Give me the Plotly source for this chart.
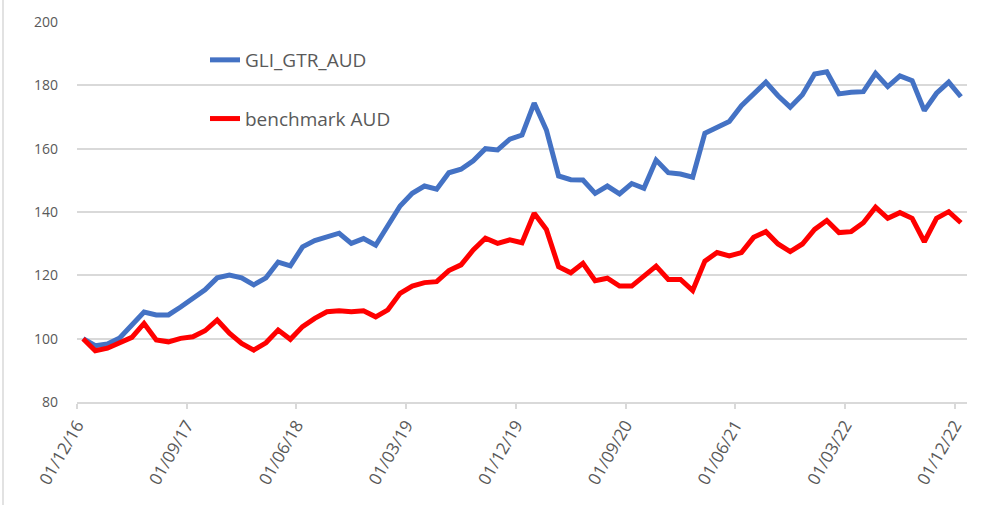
import pandas as pd
import plotly.graph_objects as go

# Monthly dates 01/12/16 .. 01/12/22
dates = pd.date_range("2016-12-01", "2022-12-01", freq="MS")
date_labels = [d.strftime("%d/%m/%y") for d in dates]

gli_gtr_aud = [
    100.0, 97.8, 98.3, 100.2, 104.3, 108.4, 107.5, 107.5, 110.0, 112.8,
    115.4, 119.2, 120.1, 119.2, 117.0, 119.2, 124.2, 123.0, 129.0, 131.0,
    132.0, 133.3, 130.1, 131.6, 129.5, 135.4, 141.9, 145.9, 148.2, 147.2,
    152.4, 153.5, 156.2, 160.0, 159.6, 163.0, 164.3, 174.4, 165.9, 151.4,
    150.2, 150.1, 145.9, 148.2, 145.7, 149.0, 147.5, 156.4, 152.4, 152.0,
    151.0, 164.9, 166.7, 168.6, 173.6, 177.4, 181.0, 176.7, 173.1, 177.0,
    183.6, 184.3, 177.3, 177.8, 178.0, 183.8, 179.6, 183.0, 181.5, 172.0,
    177.5, 181.0, 176.4,
]

benchmark_aud = [
    100.0, 96.2, 97.0, 98.7, 100.4, 104.8, 99.6, 99.0, 100.1, 100.6,
    102.5, 105.9, 101.7, 98.5, 96.4, 98.7, 102.7, 99.8, 103.8, 106.4,
    108.5, 108.8, 108.5, 108.8, 106.9, 109.1, 114.3, 116.6, 117.7, 118.0,
    121.5, 123.3, 128.0, 131.7, 130.1, 131.2, 130.3, 139.6, 134.5, 122.7,
    120.8, 123.8, 118.3, 119.1, 116.6, 116.6, 119.6, 122.9, 118.7, 118.7,
    115.2, 124.5, 127.2, 126.1, 127.2, 132.0, 133.8, 129.9, 127.5, 129.9,
    134.5, 137.3, 133.5, 133.8, 136.6, 141.5, 138.0, 139.8, 138.0, 130.6,
    138.0, 140.1, 136.6,
]

y_ticks = [80, 100, 120, 140, 160, 180, 200]
label_step = 9

x_idx = list(range(len(dates)))
tick_pos = [i - 0.5 for i in range(0, len(dates), label_step)]
tick_txt = [date_labels[i] for i in range(0, len(dates), label_step)]

FONT = "'Open Sans', Lato, sans-serif"
GRAY = "#595959"
GRID = "#d9d9d9"

fig = go.Figure()
fig.add_trace(go.Scatter(
    x=x_idx, y=gli_gtr_aud, mode="lines", name="GLI_GTR_AUD",
    legendgroup="a",
    line=dict(color="#4472C4", width=5, shape="linear"),
))
fig.add_trace(go.Scatter(
    x=x_idx, y=benchmark_aud, mode="lines", name="benchmark AUD",
    legendgroup="b",
    line=dict(color="#FF0000", width=5, shape="linear"),
))

W, H = 993, 505
L, R, T, B = 77, 26, 22, 103
PW, PH = W - L - R, H - T - B

fig.update_layout(
    width=W, height=H,
    margin=dict(l=L, r=R, t=T, b=B, pad=0, autoexpand=False),
    paper_bgcolor="white", plot_bgcolor="white",
    font=dict(family=FONT, color=GRAY),
    showlegend=True,
    legend=dict(
        x=(205 - L) / PW, y=1 - (41 - T) / PH,
        xanchor="left", yanchor="top",
        bgcolor="rgba(0,0,0,0)",
        font=dict(size=19, color=GRAY, family=FONT),
        traceorder="grouped", tracegroupgap=31,
    ),
    xaxis=dict(
        range=[-0.5, len(dates) - 0.5],
        tickmode="array", tickvals=tick_pos, ticktext=tick_txt,
        tickangle=-60,
        ticks="outside", ticklen=5, tickcolor=GRID, tickwidth=1.5,
        showline=True, linecolor=GRID, linewidth=1.5,
        showgrid=False, zeroline=False, automargin=False,
        tickfont=dict(size=17, color=GRAY, family=FONT),
    ),
    yaxis=dict(
        range=[80, 200],
        tickmode="array", tickvals=y_ticks,
        showgrid=True, gridcolor=GRID, gridwidth=1.5,
        zeroline=False, showline=False, ticks="", automargin=False,
        ticklabelstandoff=18,
        tickfont=dict(size=14, color=GRAY, family=FONT),
    ),
    shapes=[dict(
        type="line", xref="paper", yref="paper",
        x0=(3 - L) / PW, x1=(3 - L) / PW,
        y0=-B / PH, y1=1 + T / PH,
        line=dict(color=GRID, width=1.5),
    )],
)

fig.write_html(
    "out.html",
    config={"displayModeBar": False},
    post_script="document.body.style.margin='0';document.body.style.padding='0';",
)
